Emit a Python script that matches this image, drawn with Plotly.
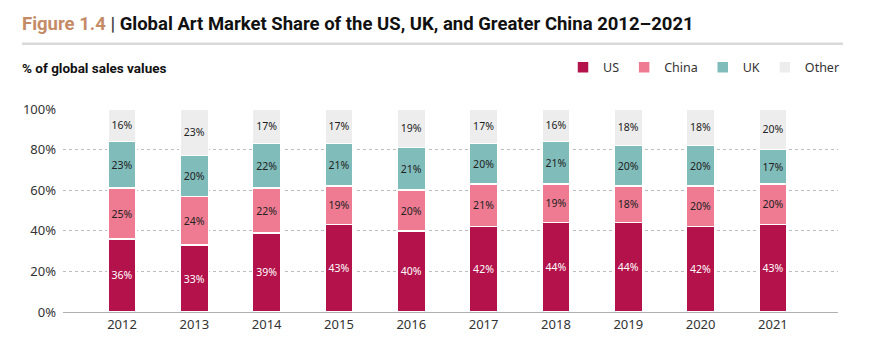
import plotly.graph_objects as go

years = ["2012", "2013", "2014", "2015", "2016", "2017", "2018", "2019", "2020", "2021"]
us = [36, 33, 39, 43, 40, 42, 44, 44, 42, 43]
china = [25, 24, 22, 19, 20, 21, 19, 18, 20, 20]
uk = [23, 20, 22, 21, 21, 20, 21, 20, 20, 17]
other = [16, 23, 17, 17, 19, 17, 16, 18, 18, 20]
y_ticks = [0, 20, 40, 60, 80, 100]

series = [
    ("US", us, "#B3124B", "#FFFFFF"),
    ("China", china, "#EF7B92", "#222222"),
    ("UK", uk, "#80BCBA", "#222222"),
    ("Other", other, "#EDEDED", "#222222"),
]

FONT = "Noto Sans"

fig = go.Figure()
for name, vals, color, tcolor in series:
    fig.add_trace(go.Bar(
        x=years, y=vals, name=name,
        marker=dict(color=color, line=dict(color="#FFFFFF", width=1.5)),
        text=[f"{v}%" for v in vals],
        textposition="inside", insidetextanchor="middle", textangle=0,
        constraintext="none",
        insidetextfont=dict(family=FONT, size=10.5, color=tcolor),
        width=0.39,
        hoverinfo="skip",
    ))

W, H = 870, 346
L, R = 63, 838
T, B = 108.5, 312.2


def py(px):
    return (B - px) / (B - T)


def pxx(px):
    return (px - L) / (R - L)


fig.update_layout(
    width=W, height=H,
    margin=dict(l=L, r=W - R, t=T, b=H - B, pad=0),
    barmode="stack",
    plot_bgcolor="white", paper_bgcolor="white",
    font=dict(family=FONT, color="#333333"),
    showlegend=True,
    legend=dict(orientation="h", x=pxx(845), xanchor="right", y=py(67),
                yanchor="middle", font=dict(family=FONT, size=12.5, color="#333333"),
                traceorder="normal", itemwidth=30, bgcolor="rgba(0,0,0,0)"),
    uniformtext=dict(mode=False),
    xaxis=dict(range=[-0.816, 9.9], showgrid=False, showline=True, linecolor="#B0B0B0",
               linewidth=1.2, ticks="", tickfont=dict(family=FONT, size=13, color="#333333"),
               fixedrange=True),
    yaxis=dict(range=[0, 100], tickvals=y_ticks, ticktext=[f"{v}%" for v in y_ticks],
               showgrid=True, gridcolor="#BDBDBD", griddash="dot", gridwidth=1,
               zeroline=False, showline=False, ticks="", ticklabelstandoff=6,
               tickfont=dict(family=FONT, size=13, color="#333333")),
    annotations=[
        dict(xref="paper", yref="paper", x=pxx(20), y=py(23),
             xanchor="left", yanchor="middle", showarrow=False,
             text="<b><span style='color:#C48B66'>Figure 1.4</span> <span style='color:#444'>|</span> Global Art Market Share of the US, UK, and Greater China 2012–2021</b>",
             font=dict(family="Roboto", size=18.5, color="#111111")),
        dict(xref="paper", yref="paper", x=pxx(20), y=py(67),
             xanchor="left", yanchor="middle", showarrow=False,
             text="<b>% of global sales values</b>",
             font=dict(family="Roboto", size=13.5, color="#111111")),
    ],
    shapes=[
        dict(type="line", xref="paper", yref="paper", x0=pxx(22), x1=pxx(843),
             y0=py(43), y1=py(43),
             line=dict(color="#D9D9D9", width=2.5)),
    ],
)

fig.write_html("out.html")
